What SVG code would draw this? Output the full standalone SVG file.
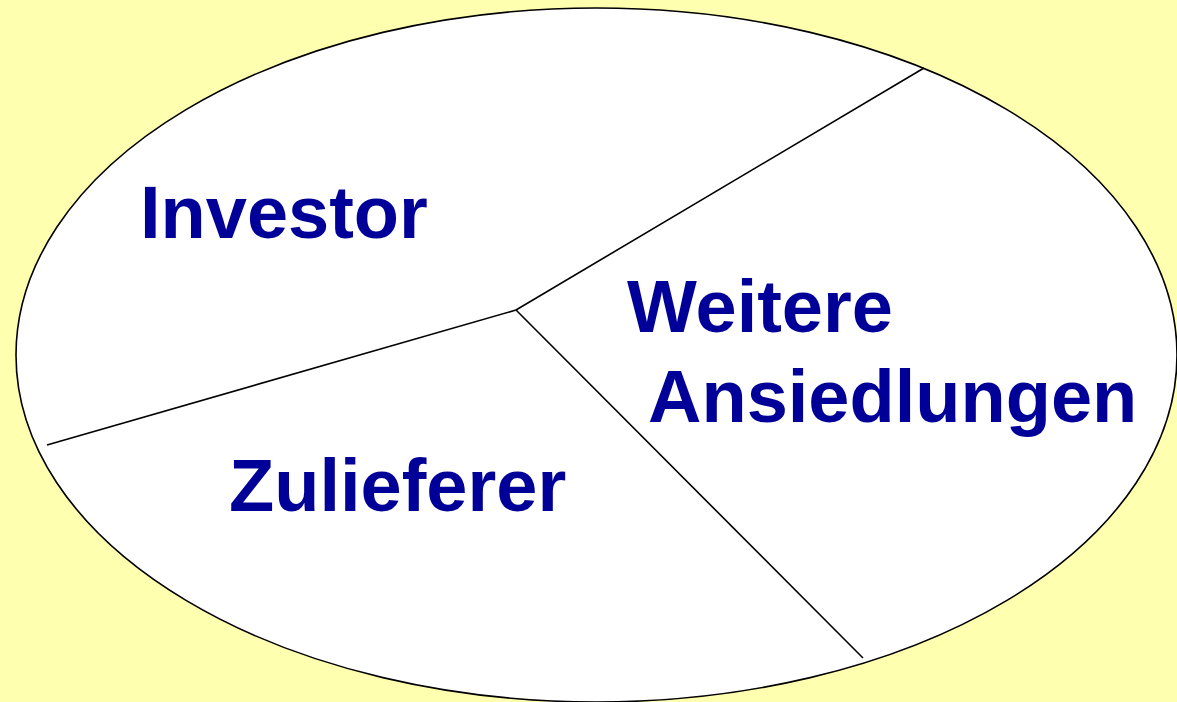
<svg xmlns="http://www.w3.org/2000/svg" width="1177" height="702" viewBox="0 0 1177 702">
<style>
.lbl{font-family:"Liberation Sans",Arial,sans-serif;font-weight:bold;font-size:74px;fill:#000099}
.sep{stroke:#000;stroke-width:1.6;fill:none}
</style>
<rect width="1177" height="702" fill="#FFFFB0"/>
<g id="ellipse">
<ellipse cx="596.5" cy="355" rx="580.5" ry="347" fill="#FFFFFF" stroke="#000" stroke-width="1.6"/>
</g>
<g id="connectors">
<line class="sep" x1="516" y1="310" x2="924" y2="68"/>
<line class="sep" x1="516" y1="310" x2="47" y2="445"/>
<line class="sep" x1="516" y1="310" x2="863" y2="658"/>
</g>
<g id="investor"><text class="lbl" x="140" y="238">Investor</text></g>
<g id="weitere"><text class="lbl" x="627" y="332">Weitere</text><text class="lbl" x="648" y="422">Ansiedlungen</text></g>
<g id="zulieferer"><text class="lbl" x="229" y="511">Zulieferer</text></g>
</svg>
